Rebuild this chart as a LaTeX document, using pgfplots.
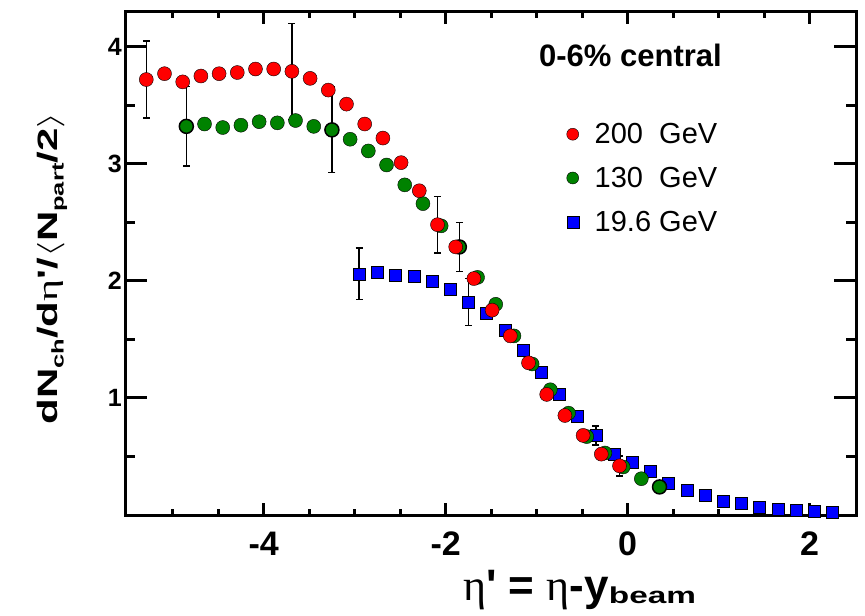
\documentclass[border=0pt]{standalone}
\usepackage{pgfplots}
\pgfplotsset{compat=1.18}
\usepackage{pgfplotstable}
\usepackage{fontspec}
\setmainfont{Liberation Sans}
\newfontfamily\rawsans{Liberation Sans}[Ligatures=TeXOff]
\newfontfamily\serifg{Liberation Serif}
\definecolor{rred}{RGB}{255,0,0}
\definecolor{rgreen}{RGB}{0,130,0}
\definecolor{rblue}{RGB}{0,0,255}

\pgfplotstableread{
x y
-5.29 3.72
-5.09 3.77
-4.89 3.70
-4.69 3.75
-4.49 3.77
-4.29 3.78
-4.09 3.81
-3.89 3.81
-3.69 3.79
-3.49 3.73
-3.29 3.63
-3.09 3.51
-2.89 3.34
-2.69 3.22
-2.49 3.01
-2.29 2.77
-2.09 2.48
-1.89 2.29
-1.69 2.02
-1.49 1.75
-1.29 1.53
-1.09 1.30
-0.89 1.03
-0.69 0.85
-0.49 0.68
-0.29 0.52
-0.09 0.42
}\redtab

\pgfplotstableread{
x y ey
-5.29 3.72 0.33
-3.69 3.79 0.41
-2.09 2.48 0.24
-0.09 0.42 0.085
}\rederr

\pgfplotstableread{
x y
-4.65 3.34
-4.45 3.31
-4.25 3.33
-4.05 3.36
-3.85 3.35
-3.65 3.37
-3.45 3.32
-3.05 3.21
-2.85 3.11
-2.65 2.99
-2.45 2.82
-2.25 2.66
-2.05 2.47
-1.65 2.03
-1.45 1.80
-1.25 1.53
-1.05 1.29
-0.85 1.07
-0.65 0.87
-0.45 0.67
-0.25 0.53
-0.05 0.41
0.15 0.31
}\greentab

\pgfplotstableread{
x y ey
-4.85 3.32 0.34
-3.25 3.29 0.365
-1.85 2.29 0.21
}\greenerr

\pgfplotstableread{
x y
-4.85 3.32
-3.25 3.29
-1.85 2.29
0.35 0.24
}\greenring

\pgfplotstableread{
x y
-2.95 2.06
-2.75 2.07
-2.55 2.05
-2.35 2.04
-2.15 2.00
-1.95 1.93
-1.75 1.82
-1.55 1.72
-1.35 1.58
-1.15 1.41
-0.95 1.22
-0.75 1.03
-0.55 0.84
-0.35 0.68
-0.15 0.52
0.05 0.45
0.25 0.37
0.45 0.27
0.65 0.21
0.85 0.17
1.05 0.12
1.25 0.10
1.45 0.07
1.65 0.05
1.85 0.04
2.05 0.03
2.25 0.02
}\bluetab

\pgfplotstableread{
x y ey
-2.95 2.06 0.22
-1.75 1.82 0.20
-0.35 0.68 0.08
}\blueerr

\begin{document}
\begin{tikzpicture}
\begin{axis}[
  scale only axis, width=731pt, height=503pt,
  xmin=-5.524, xmax=2.509, ymin=0, ymax=4.297,
  clip=false,
  axis line style={line width=3pt},
  tick align=inside, tick pos=both,
  xtick={-4,-2,0,2}, xticklabels={-4,-2,0,2},
  minor xtick={-5,-4.5,-3.5,-3,-2.5,-1.5,-1,-0.5,0.5,1,1.5},
  ytick={1,2,3,4}, yticklabels={1,2,3,4},
  minor ytick={0.5,1.5,2.5,3.5},
  major tick style={line width=3pt, black},
  minor tick style={line width=3pt, black},
  x tick style={/pgfplots/major tick length=12pt,/pgfplots/minor tick length=6pt},
  y tick style={/pgfplots/major tick length=22pt,/pgfplots/minor tick length=10pt},
  xticklabel style={font=\fontsize{34}{34}\selectfont\bfseries, inner sep=0pt, yshift=-17pt},
  yticklabel style={font=\fontsize{25}{25}\selectfont\bfseries, inner sep=0pt, xshift=-3pt},
  xlabel={\fontsize{44}{44}\selectfont{\serifg η}{\rawsans\bfseries '} {\bfseries =} {\serifg η}{\bfseries -y\raisebox{-3pt}{\scalebox{1.45}[1]{\fontsize{23}{23}\selectfont beam}}}},
  xlabel style={at={(axis description cs:0.622,-0.169)}, anchor=base, inner sep=0pt},
  ylabel={\scalebox{1.5}[1]{\fontsize{28}{28}\selectfont\bfseries dN\raisebox{-6pt}{\fontsize{17}{17}\selectfont ch}/d{\mdseries\serifg η}{\rawsans '}/\scalebox{1.1}{$\langle$}N\raisebox{-6pt}{\fontsize{17}{17}\selectfont part}/2\scalebox{1.1}{$\rangle$}}},
  ylabel style={at={(axis description cs:-0.0923,0.49)}, anchor=base, inner sep=0pt},
  legend style={draw=none, fill=none, font=\fontsize{29}{29}\selectfont,
    at={(rel axis cs:0.604,0.779)}, anchor=north west, inner sep=0pt,
    row sep=22pt, column sep=16pt, nodes={inner sep=0pt}},
  legend cell align=left,
]
\addlegendimage{only marks, mark=*, mark size=6pt, draw=none, fill=rred}
\addlegendentry{200\ \ GeV}
\addlegendimage{only marks, mark=*, mark size=6pt, draw=none, fill=rgreen}
\addlegendentry{130\ \ GeV}
\addlegendimage{only marks, mark=square*, mark size=6pt, draw=none, fill=rblue}
\addlegendentry{19.6 GeV}

% error bars first, markers drawn over them
\addplot[only marks, mark=none, forget plot,
  error bars/.cd, y dir=both, y explicit,
  error bar style={line width=1.5pt, black},
  error mark options={rotate=90, line width=1.5pt, black, mark size=3.5pt}]
  table[x=x, y=y, y error=ey] {\blueerr};
\addplot[only marks, mark=square*, mark size=6pt, mark options={draw=none, fill=rblue}, forget plot]
  table[x=x, y=y] {\bluetab};
\addplot[only marks, mark=none, forget plot,
  error bars/.cd, y dir=both, y explicit,
  error bar style={line width=1.5pt, black},
  error mark options={rotate=90, line width=1.5pt, black, mark size=3.5pt}]
  table[x=x, y=y, y error=ey] {\greenerr};
\addplot[only marks, mark=*, mark size=7pt, mark options={draw=none, fill=rgreen}, forget plot]
  table[x=x, y=y] {\greentab};
\addplot[only marks, mark=*, mark size=7pt, mark options={draw=black, line width=1.5pt, fill=rgreen}, forget plot]
  table[x=x, y=y] {\greenring};
\addplot[only marks, mark=none, forget plot,
  error bars/.cd, y dir=both, y explicit,
  error bar style={line width=1.5pt, black},
  error mark options={rotate=90, line width=1.5pt, black, mark size=3.5pt}]
  table[x=x, y=y, y error=ey] {\rederr};
\addplot[only marks, mark=*, mark size=7pt, mark options={draw=none, fill=rred}, forget plot]
  table[x=x, y=y] {\redtab};

\node[anchor=base east, font=\fontsize{31}{31}\selectfont\bfseries, inner sep=0pt] at (rel axis cs:0.8167,0.891) {0-6\% central};
\end{axis}
\pgfresetboundingbox
\path[use as bounding box] ([shift={(-125pt,-100pt)}]current axis.south west) rectangle ([shift={(9pt,12pt)}]current axis.north east);
\end{tikzpicture}
\end{document}
